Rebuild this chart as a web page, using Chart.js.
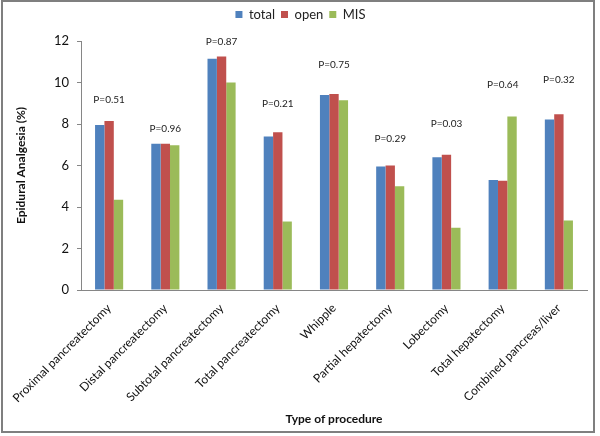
<!DOCTYPE html>
<html>
<head>
<meta charset="utf-8">
<script src="https://cdn.jsdelivr.net/npm/chart.js@4.4.0/dist/chart.umd.min.js"></script>
<style>
  html, body { margin: 0; padding: 0; background: #fff; }
  #frame { position: absolute; left: 1px; top: 0px; width: 594px; height: 433px; box-sizing: border-box; border: 2px solid #7f7f7f; }
  #frame canvas { display: block; }
</style>
</head>
<body>
<div id="frame"><canvas id="procChart" width="590" height="429"></canvas></div>
<script>
// Data
const procedures = ['Proximal pancreatectomy', 'Distal pancreatectomy', 'Subtotal pancreatectomy',
                    'Total pancreatectomy', 'Whipple', 'Partial hepatectomy', 'Lobectomy',
                    'Total hepatectomy', 'Combined pancreas/liver'];
const totalVals = [7.95, 7.05, 11.15, 7.4, 9.4, 5.95, 6.4, 5.3, 8.22];
const openVals  = [8.15, 7.05, 11.25, 7.6, 9.45, 6.0, 6.52, 5.27, 8.47];
const misVals   = [4.35, 6.98, 10.0, 3.3, 9.15, 5.0, 3.0, 8.36, 3.35];
const pLabels = ['P=0.51', 'P=0.96', 'P=0.87', 'P=0.21', 'P=0.75', 'P=0.29', 'P=0.03', 'P=0.64', 'P=0.32'];
// height (in % units) where each P label sits
const pLabelHeights = [9.16, 7.79, 11.97, 8.99, 10.84, 7.31, 8.0, 9.91, 10.15];

const fontFamily = 'Lato, "Open Sans", sans-serif';
const axisColor = '#868686';

// Draw the P values above each group
const pValuePlugin = {
    id: 'pValues',
    afterDatasetsDraw(chart) {
        const ctx = chart.ctx;
        const xScale = chart.scales.x;
        const yScale = chart.scales.y;
        ctx.save();
        ctx.font = '10px ' + fontFamily;
        ctx.fillStyle = '#222';
        ctx.textAlign = 'center';
        ctx.textBaseline = 'middle';
        pLabels.forEach((label, i) => {
            ctx.fillText(label, xScale.getPixelForValue(i), yScale.getPixelForValue(pLabelHeights[i]));
        });
        ctx.restore();
    }
};

// Give the legend a fixed block height so the plot starts where it does in the figure
const legendHeight = {
    id: 'legendHeight',
    beforeInit(chart) {
        const fit = chart.legend.fit;
        chart.legend.fit = function () {
            fit.bind(chart.legend)();
            this.height = 39;
        };
    }
};

const ctx = document.getElementById('procChart').getContext('2d');
const procChart = new Chart(ctx, {
    type: 'bar',
    data: {
        labels: procedures,
        datasets: [
            { label: 'total', data: totalVals, backgroundColor: '#4F81BD' },
            { label: 'open', data: openVals, backgroundColor: '#C0504D' },
            { label: 'MIS', data: misVals, backgroundColor: '#9BBB59' }
        ]
    },
    options: {
        responsive: false,
        animation: false,
        layout: { padding: { left: 11, right: 6, top: 0, bottom: 5 } },
        datasets: {
            bar: { categoryPercentage: 0.5, barPercentage: 1.0 }
        },
        plugins: {
            legend: {
                position: 'top',
                labels: {
                    boxWidth: 7,
                    boxHeight: 7,
                    padding: 6,
                    color: '#222',
                    font: { family: fontFamily, size: 13 }
                }
            },
            tooltip: { enabled: false }
        },
        scales: {
            x: {
                grid: { display: false },
                border: { display: true, color: axisColor, width: 1 },
                ticks: {
                    minRotation: 45,
                    maxRotation: 45,
                    padding: 3,
                    color: '#111',
                    font: { family: fontFamily, size: 12 }
                },
                title: {
                    display: true,
                    text: 'Type of procedure',
                    color: '#111',
                    padding: 0,
                    font: { family: fontFamily, size: 12, weight: 'bold' }
                },
                afterFit(scale) { scale.height = 136; }
            },
            y: {
                min: 0,
                max: 12,
                grid: { drawOnChartArea: false, drawTicks: true, tickLength: 4, color: axisColor },
                border: { display: true, color: axisColor, width: 1 },
                ticks: {
                    stepSize: 2,
                    padding: 8,
                    color: '#111',
                    font: { family: fontFamily, size: 13 }
                },
                title: {
                    display: true,
                    text: 'Epidural Analgesia (%)',
                    color: '#111',
                    padding: 0,
                    font: { family: fontFamily, size: 12, weight: 'bold' }
                },
                afterFit(scale) { scale.width = 67; }
            }
        }
    },
    plugins: [pValuePlugin, legendHeight]
});
</script>
</body>
</html>
